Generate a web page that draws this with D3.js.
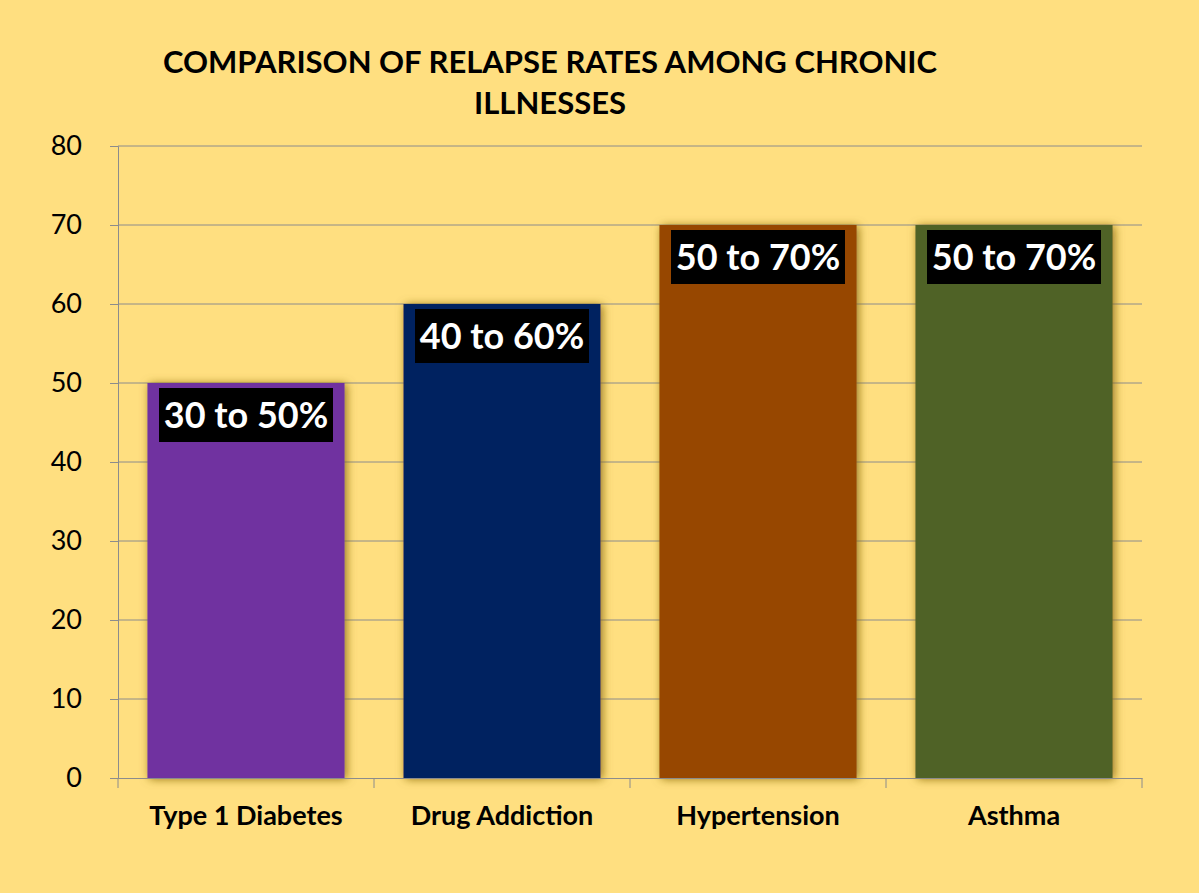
<!DOCTYPE html>
<html>
<head>
<meta charset="utf-8">
<script src="https://cdn.jsdelivr.net/npm/d3@7"></script>
<style>
  body { margin: 0; background: #ffdf80; }
  svg { display: block; font-family: Lato, "Open Sans", sans-serif; }
</style>
</head>
<body>
<svg id="chart"></svg>
<script>
var categories = ["Type 1 Diabetes", "Drug Addiction", "Hypertension", "Asthma"];
var values = [50, 60, 70, 70];
var labels = ["30 to 50%", "40 to 60%", "50 to 70%", "50 to 70%"];
var colors = ["#7030a0", "#002060", "#974706", "#4f6228"];
var yTicks = [0, 10, 20, 30, 40, 50, 60, 70, 80];
var titleLines = ["COMPARISON OF RELAPSE RATES AMONG CHRONIC", "ILLNESSES"];

var W = 1199, H = 893;
var margin = {top: 146, right: 57, bottom: 115, left: 118}
  , width = W - margin.left - margin.right
  , height = H - margin.top - margin.bottom;

var svg = d3.select("#chart").attr("width", W).attr("height", H);

svg.append("rect").attr("width", W).attr("height", H).attr("fill", "#ffdf80");

var defs = svg.append("defs");
var f = defs.append("filter").attr("id", "glow")
    .attr("x", "-10%").attr("y", "-10%").attr("width", "120%").attr("height", "120%");
f.append("feGaussianBlur").attr("in", "SourceAlpha").attr("stdDeviation", 5).attr("result", "b");
f.append("feOffset").attr("in", "b").attr("dx", 2).attr("dy", 1).attr("result", "o");
f.append("feFlood").attr("flood-color", "#8a6a10").attr("flood-opacity", 0.9);
f.append("feComposite").attr("in2", "o").attr("operator", "in");
var m = f.append("feMerge");
m.append("feMergeNode");
m.append("feMergeNode").attr("in", "SourceGraphic");

// title
svg.append("g").selectAll("text")
    .data(titleLines)
  .enter().append("text")
    .attr("x", 550)
    .attr("y", function(d, i) { return 73 + i * 41; })
    .attr("text-anchor", "middle")
    .attr("font-size", 31)
    .attr("font-weight", "bold")
    .attr("fill", "#000")
    .text(function(d) { return d; });

var g = svg.append("g")
    .attr("transform", "translate(" + margin.left + "," + margin.top + ")");

var x = d3.scaleBand().domain(categories).range([0, width]).paddingInner(0.23).paddingOuter(0.115);
var xb = d3.scaleBand().domain(categories).range([0, width]);
var y = d3.scaleLinear().domain([0, 80]).range([height, 0]);

// gridlines
g.append("g").selectAll("line")
    .data(yTicks.slice(1))
  .enter().append("line")
    .attr("x1", 0).attr("x2", width)
    .attr("y1", function(d) { return y(d); })
    .attr("y2", function(d) { return y(d); })
    .attr("stroke", "#8c8c8c").attr("stroke-width", 1);

// y axis
var yAxis = g.append("g")
    .call(d3.axisLeft(y).tickValues(yTicks).tickSize(8).tickPadding(28));
yAxis.select(".domain").attr("stroke", "#8c8c8c");
yAxis.selectAll(".tick line").attr("stroke", "#8c8c8c");
yAxis.selectAll(".tick text").attr("font-size", 27).attr("fill", "#000")
    .attr("font-family", "Lato, sans-serif");

// bars
g.append("g").selectAll("rect")
    .data(categories)
  .enter().append("rect")
    .attr("x", function(d) { return x(d); })
    .attr("y", function(d, i) { return y(values[i]); })
    .attr("width", x.bandwidth())
    .attr("height", function(d, i) { return height - y(values[i]); })
    .attr("fill", function(d, i) { return colors[i]; })
    .attr("filter", "url(#glow)");

// x axis
var xAxis = g.append("g")
    .attr("transform", "translate(0," + height + ")")
    .call(d3.axisBottom(xb).tickSize(0).tickPadding(28));
xAxis.select(".domain").attr("stroke", "#8c8c8c");
xAxis.selectAll(".tick text").attr("font-size", 27).attr("font-weight", "bold")
    .attr("fill", "#000").attr("font-family", "Lato, sans-serif");
g.append("g").selectAll("line")
    .data(d3.range(categories.length + 1))
  .enter().append("line")
    .attr("x1", function(i) { return i * xb.step(); })
    .attr("x2", function(i) { return i * xb.step(); })
    .attr("y1", height).attr("y2", height + 10)
    .attr("stroke", "#8c8c8c");

// value labels
var lab = g.append("g").selectAll("g")
    .data(categories)
  .enter().append("g")
    .attr("transform", function(d, i) {
      return "translate(" + (x(d) + x.bandwidth() / 2) + "," + (y(values[i]) + 5) + ")";
    });
lab.append("rect")
    .attr("x", -87).attr("y", 0).attr("width", 174).attr("height", 54)
    .attr("fill", "#000");
lab.append("text")
    .attr("x", 0).attr("y", 40)
    .attr("text-anchor", "middle")
    .attr("font-size", 36).attr("font-weight", "bold")
    .attr("fill", "#fff")
    .text(function(d, i) { return labels[i]; });
</script>
</body>
</html>
